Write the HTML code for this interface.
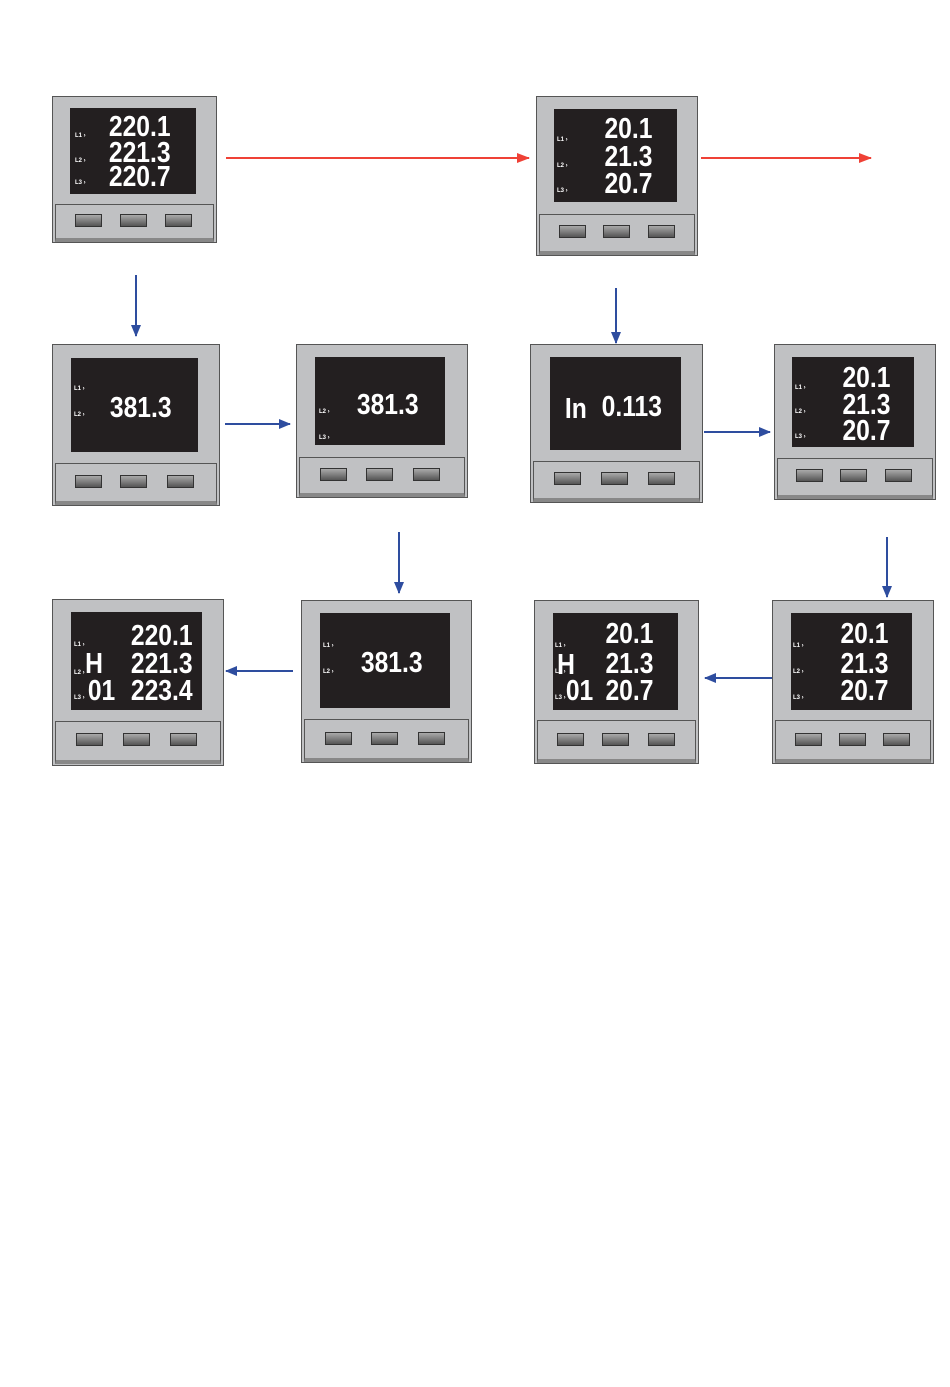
<!DOCTYPE html>
<html><head><meta charset="utf-8"><style>
body{margin:0;width:950px;height:1387px;background:#fff;position:relative;overflow:hidden;font-family:"Liberation Sans",sans-serif}
.d{position:absolute;background:#c0c1c3;border:1px solid #555;box-sizing:border-box}
.s{position:absolute;background:#231f20}
.p{position:absolute;left:2px;right:2px;border:1px solid #555;border-bottom:4px solid #888;box-sizing:border-box;background:#c0c1c3}
.b{position:absolute;width:27px;height:13px;border:1px solid #333;box-sizing:border-box;background:linear-gradient(#aaa,#555)}
.l{position:absolute;color:#fff;font-size:6px;font-weight:bold}
.t{position:absolute;color:#fff;font-family:"Liberation Sans Narrow","Liberation Sans",sans-serif;font-weight:bold;font-size:29px;line-height:27px;transform:scaleX(.85);transform-origin:right;white-space:pre}
svg{position:absolute;left:0;top:0}
</style></head><body>

<!-- D1 -->
<div class="d" style="left:52px;top:96px;width:165px;height:147px">
<div class="s" style="left:17px;top:11px;width:126px;height:86px"></div>
<div class="l" style="left:22px;top:36px">L1 ›</div><div class="l" style="left:22px;top:61px">L2 ›</div><div class="l" style="left:22px;top:83px">L3 ›</div>
<div class="t" style="right:45px;top:17px">220.1</div><div class="t" style="right:45px;top:43px">221.3</div><div class="t" style="right:45px;top:67px">220.7</div>
<div class="p" style="top:107px;height:38px"><div class="b" style="left:19px;top:9px"></div><div class="b" style="left:64px;top:9px"></div><div class="b" style="left:109px;top:9px"></div></div>
</div>
<!-- D2 -->
<div class="d" style="left:536px;top:96px;width:162px;height:160px">
<div class="s" style="left:17px;top:12px;width:123px;height:93px"></div>
<div class="l" style="left:20px;top:40px">L1 ›</div><div class="l" style="left:20px;top:66px">L2 ›</div><div class="l" style="left:20px;top:91px">L3 ›</div>
<div class="t" style="right:45px;top:19px">20.1</div><div class="t" style="right:45px;top:47px">21.3</div><div class="t" style="right:45px;top:74px">20.7</div>
<div class="p" style="top:117px;height:41px"><div class="b" style="left:19px;top:10px"></div><div class="b" style="left:63px;top:10px"></div><div class="b" style="left:108px;top:10px"></div></div>
</div>
<!-- D3 -->
<div class="d" style="left:52px;top:344px;width:168px;height:162px">
<div class="s" style="left:18px;top:13px;width:127px;height:94px"></div>
<div class="l" style="left:21px;top:41px">L1 ›</div><div class="l" style="left:21px;top:67px">L2 ›</div>
<div class="t" style="right:47px;top:50px">381.3</div>
<div class="p" style="top:118px;height:42px"><div class="b" style="left:19px;top:11px"></div><div class="b" style="left:64px;top:11px"></div><div class="b" style="left:111px;top:11px"></div></div>
</div>
<!-- D4 -->
<div class="d" style="left:296px;top:344px;width:172px;height:154px">
<div class="s" style="left:18px;top:12px;width:130px;height:88px"></div>
<div class="l" style="left:22px;top:64px">L2 ›</div><div class="l" style="left:22px;top:90px">L3 ›</div>
<div class="t" style="right:48px;top:47px">381.3</div>
<div class="p" style="top:112px;height:40px"><div class="b" style="left:20px;top:10px"></div><div class="b" style="left:66px;top:10px"></div><div class="b" style="left:113px;top:10px"></div></div>
</div>
<!-- D5 -->
<div class="d" style="left:530px;top:344px;width:173px;height:159px">
<div class="s" style="left:19px;top:12px;width:131px;height:93px"></div>
<div class="t" style="right:115px;top:51px">In</div>
<div class="t" style="right:40px;top:49px">0.113</div>
<div class="p" style="top:116px;height:41px"><div class="b" style="left:20px;top:10px"></div><div class="b" style="left:67px;top:10px"></div><div class="b" style="left:114px;top:10px"></div></div>
</div>
<!-- D6 -->
<div class="d" style="left:774px;top:344px;width:162px;height:156px">
<div class="s" style="left:17px;top:12px;width:122px;height:90px"></div>
<div class="l" style="left:20px;top:40px">L1 ›</div><div class="l" style="left:20px;top:64px">L2 ›</div><div class="l" style="left:20px;top:89px">L3 ›</div>
<div class="t" style="right:45px;top:20px">20.1</div><div class="t" style="right:45px;top:47px">21.3</div><div class="t" style="right:45px;top:73px">20.7</div>
<div class="p" style="top:113px;height:41px"><div class="b" style="left:18px;top:10px"></div><div class="b" style="left:62px;top:10px"></div><div class="b" style="left:107px;top:10px"></div></div>
</div>
<!-- D7 -->
<div class="d" style="left:52px;top:599px;width:172px;height:167px">
<div class="s" style="left:18px;top:12px;width:131px;height:98px"></div>
<div class="l" style="left:21px;top:42px">L1 ›</div><div class="l" style="left:21px;top:70px">L2 ›</div><div class="l" style="left:21px;top:95px">L3 ›</div>
<div class="t" style="right:120px;top:51px">H</div><div class="t" style="right:108px;top:78px">01</div>
<div class="t" style="right:30px;top:23px">220.1</div><div class="t" style="right:30px;top:51px">221.3</div><div class="t" style="right:30px;top:78px">223.4</div>
<div class="p" style="top:121px;height:43px"><div class="b" style="left:20px;top:11px"></div><div class="b" style="left:67px;top:11px"></div><div class="b" style="left:114px;top:11px"></div></div>
</div>
<!-- D8 -->
<div class="d" style="left:301px;top:600px;width:171px;height:163px">
<div class="s" style="left:18px;top:12px;width:130px;height:95px"></div>
<div class="l" style="left:21px;top:42px">L1 ›</div><div class="l" style="left:21px;top:68px">L2 ›</div>
<div class="t" style="right:48px;top:49px">381.3</div>
<div class="p" style="top:118px;height:43px"><div class="b" style="left:20px;top:12px"></div><div class="b" style="left:66px;top:12px"></div><div class="b" style="left:113px;top:12px"></div></div>
</div>
<!-- D9 -->
<div class="d" style="left:534px;top:600px;width:165px;height:164px">
<div class="s" style="left:18px;top:12px;width:125px;height:97px"></div>
<div class="l" style="left:20px;top:42px">L1 ›</div><div class="l" style="left:20px;top:68px">L2 ›</div><div class="l" style="left:20px;top:94px">L3 ›</div>
<div class="t" style="right:123px;top:51px">H</div><div class="t" style="right:105px;top:77px">01</div>
<div class="t" style="right:45px;top:20px">20.1</div><div class="t" style="right:45px;top:50px">21.3</div><div class="t" style="right:45px;top:77px">20.7</div>
<div class="p" style="top:119px;height:43px"><div class="b" style="left:19px;top:12px"></div><div class="b" style="left:64px;top:12px"></div><div class="b" style="left:110px;top:12px"></div></div>
</div>
<!-- D10 -->
<div class="d" style="left:772px;top:600px;width:162px;height:164px">
<div class="s" style="left:18px;top:12px;width:121px;height:97px"></div>
<div class="l" style="left:20px;top:42px">L1 ›</div><div class="l" style="left:20px;top:68px">L2 ›</div><div class="l" style="left:20px;top:94px">L3 ›</div>
<div class="t" style="right:45px;top:20px">20.1</div><div class="t" style="right:45px;top:50px">21.3</div><div class="t" style="right:45px;top:77px">20.7</div>
<div class="p" style="top:119px;height:43px"><div class="b" style="left:19px;top:12px"></div><div class="b" style="left:63px;top:12px"></div><div class="b" style="left:107px;top:12px"></div></div>
</div>

<svg width="950" height="1387">
<defs>
<marker id="r" markerWidth="13" markerHeight="10" refX="12" refY="5" orient="auto" markerUnits="userSpaceOnUse"><path d="M0,0 L13,5 L0,10z" fill="#ef4136"/></marker>
<marker id="bl" markerWidth="12" markerHeight="10" refX="11" refY="5" orient="auto" markerUnits="userSpaceOnUse"><path d="M0,0 L12,5 L0,10z" fill="#2e4d9f"/></marker>
</defs>
<g stroke="#ef4136" stroke-width="2"><line x1="226" y1="158" x2="529" y2="158" marker-end="url(#r)"/><line x1="701" y1="158" x2="871" y2="158" marker-end="url(#r)"/></g>
<g stroke="#2e4d9f" stroke-width="2">
<line x1="136" y1="275" x2="136" y2="336" marker-end="url(#bl)"/>
<line x1="225" y1="424" x2="290" y2="424" marker-end="url(#bl)"/>
<line x1="616" y1="288" x2="616" y2="343" marker-end="url(#bl)"/>
<line x1="704" y1="432" x2="770" y2="432" marker-end="url(#bl)"/>
<line x1="399" y1="532" x2="399" y2="593" marker-end="url(#bl)"/>
<line x1="887" y1="537" x2="887" y2="597" marker-end="url(#bl)"/>
<line x1="293" y1="671" x2="226" y2="671" marker-end="url(#bl)"/>
<line x1="772" y1="678" x2="705" y2="678" marker-end="url(#bl)"/>
</g>
</svg>
</body></html>
